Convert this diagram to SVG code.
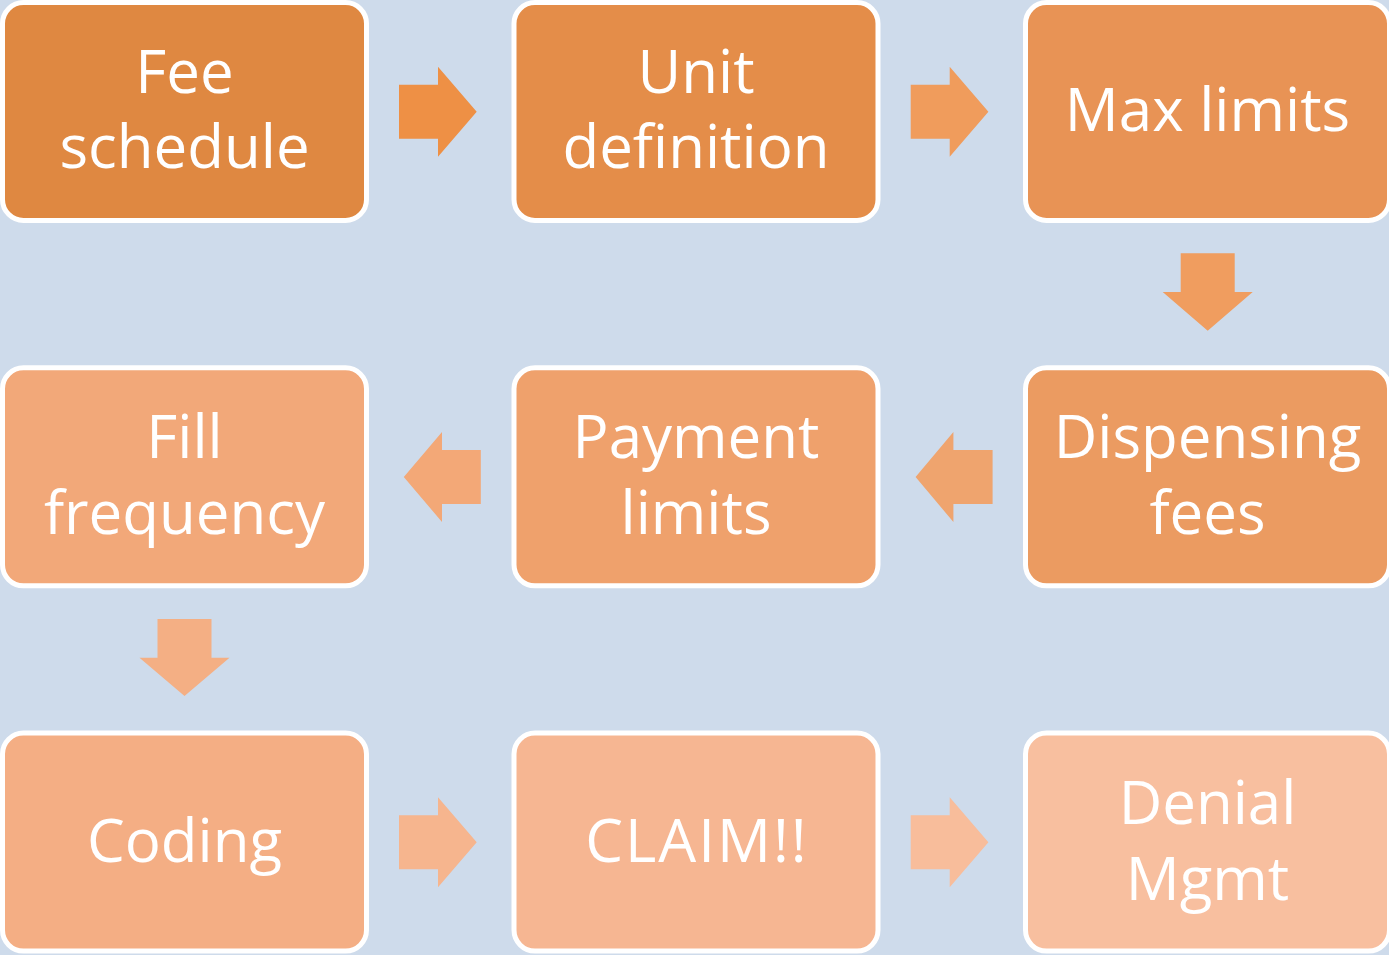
<svg xmlns="http://www.w3.org/2000/svg" width="1389" height="955" viewBox="0 0 1389 955">
<style>
.box{stroke:#FFFFFF;stroke-width:5}
.lbl{font-family:"Open Sans","Noto Sans","Liberation Sans",sans-serif;font-size:60px;fill:#FFFFFF;text-anchor:middle}
</style>
<rect width="1389" height="955" fill="#CEDBEB"/>
<g id="connectors">
<polygon points="399,84.7 438,84.7 438,66.7 476.7,111.7 438,156.7 438,138.7 399,138.7" fill="#EE9045"/>
<polygon points="910.7,84.7 949.7,84.7 949.7,66.7 988.4,111.7 949.7,156.7 949.7,138.7 910.7,138.7" fill="#F09C5C"/>
<polygon points="1180.7,253.3 1234.7,253.3 1234.7,292 1252.7,292 1207.7,330.7 1162.7,292 1180.7,292" fill="#F09D5F"/>
<polygon points="992.6,450 953.4,450 953.4,432 915.6,477 953.4,522 953.4,504 992.6,504" fill="#EFA46E"/>
<polygon points="480.8,450 442,450 442,432 403.8,477 442,522 442,504 480.8,504" fill="#F3A877"/>
<polygon points="157.5,619 211.5,619 211.5,657.7 229.5,657.7 184.5,696 139.5,657.7 157.5,657.7" fill="#F4AF84"/>
<polygon points="399,815.3 438,815.3 438,797.3 476.7,842.3 438,887.3 438,869.3 399,869.3" fill="#F6B58E"/>
<polygon points="910.7,815.3 949.7,815.3 949.7,797.3 988.4,842.3 949.7,887.3 949.7,869.3 910.7,869.3" fill="#F8BD9B"/>
</g>
<g id="fee-schedule">
<rect class="box" x="2.5" y="2.5" width="364" height="218" rx="21" fill="#DF8841"/>
<text class="lbl" x="184.5" y="93">Fee</text>
<text class="lbl" x="184.5" y="168">schedule</text>
</g>
<g id="unit-definition">
<rect class="box" x="514" y="2.5" width="364" height="218" rx="21" fill="#E48D49"/>
<text class="lbl" x="696" y="93">Unit</text>
<text class="lbl" x="696" y="168">definition</text>
</g>
<g id="max-limits">
<rect class="box" x="1025.5" y="2.5" width="364" height="218" rx="21" fill="#E89355"/>
<text class="lbl" x="1207.5" y="131">Max limits</text>
</g>
<g id="dispensing-fees">
<rect class="box" x="1025.5" y="367.8" width="364" height="218" rx="21" fill="#EB9B61"/>
<text class="lbl" x="1207.5" y="458.3">Dispensing</text>
<text class="lbl" x="1207.5" y="534">fees</text>
</g>
<g id="payment-limits">
<rect class="box" x="514" y="367.8" width="364" height="218" rx="21" fill="#EFA16C"/>
<text class="lbl" x="696" y="458.3">Payment</text>
<text class="lbl" x="696" y="534">limits</text>
</g>
<g id="fill-frequency">
<rect class="box" x="2.5" y="367.8" width="364" height="218" rx="21" fill="#F2A879"/>
<text class="lbl" x="184.5" y="458.3">Fill</text>
<text class="lbl" x="184.5" y="534">frequency</text>
</g>
<g id="coding">
<rect class="box" x="2.5" y="733.1" width="364" height="218" rx="21" fill="#F4AE84"/>
<text class="lbl" x="184.5" y="861.7">Coding</text>
</g>
<g id="claim">
<rect class="box" x="514" y="733.1" width="364" height="218" rx="21" fill="#F6B692"/>
<text class="lbl" x="697" y="861.7" letter-spacing="2">CLAIM!!</text>
</g>
<g id="denial-mgmt">
<rect class="box" x="1025.5" y="733.1" width="364" height="218" rx="21" fill="#F8BF9F"/>
<text class="lbl" x="1207.5" y="823.7">Denial</text>
<text class="lbl" x="1207.5" y="900">Mgmt</text>
</g>
</svg>
